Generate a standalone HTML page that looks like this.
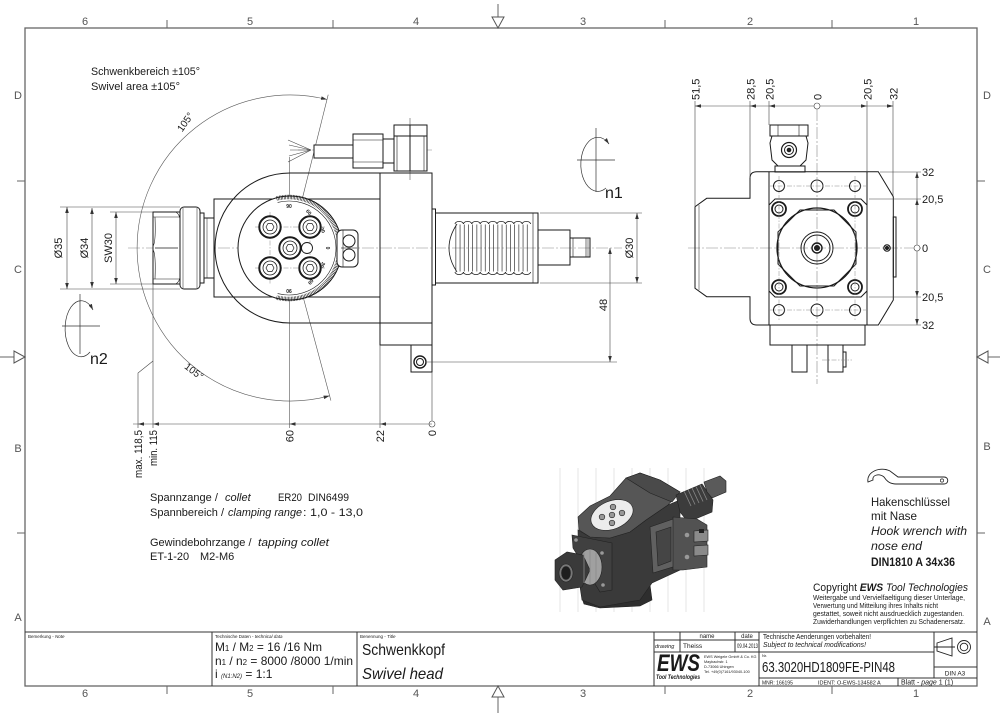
<!DOCTYPE html>
<html><head><meta charset="utf-8">
<style>
html,body{margin:0;padding:0;background:#fff;}
svg{display:block;}
text{font-family:"Liberation Sans",sans-serif;fill:#1a1a1a;}
.fr{fill:#555;font-size:11px;}
.it{font-style:italic;}
</style></head><body>
<svg width="1000" height="715" viewBox="0 0 1000 715" xmlns="http://www.w3.org/2000/svg">
<defs>
<marker id="ah" viewBox="0 0 10 6" refX="10" refY="3" markerWidth="6" markerHeight="3.6" markerUnits="userSpaceOnUse" orient="auto-start-reverse"><path d="M0,0 L10,3 L0,6 z" fill="#333"/></marker>
</defs>

<!-- ===== FRAME ===== -->
<g stroke="#666" stroke-width="1.3" fill="none">
<rect x="25" y="28" width="952" height="658"/>
</g>
<g stroke="#666" stroke-width="1">
<line x1="167" y1="20" x2="167" y2="28"/><line x1="333" y1="20" x2="333" y2="28"/><line x1="665" y1="20" x2="665" y2="28"/><line x1="832" y1="20" x2="832" y2="28"/>
<line x1="167" y1="686" x2="167" y2="694"/><line x1="333" y1="686" x2="333" y2="694"/><line x1="665" y1="686" x2="665" y2="694"/><line x1="832" y1="686" x2="832" y2="694"/>
<line x1="17" y1="181" x2="25" y2="181"/><line x1="17" y1="533" x2="25" y2="533"/>
<line x1="977" y1="181" x2="985" y2="181"/><line x1="977" y1="533" x2="985" y2="533"/>
<line x1="498" y1="4" x2="498" y2="18"/>
<line x1="498" y1="697" x2="498" y2="713"/>
<line x1="0" y1="357" x2="14" y2="357"/>
<line x1="988" y1="357" x2="1000" y2="357"/>
</g>
<g stroke="#555" stroke-width="1" fill="#fff">
<polygon points="492,17 504,17 498,28"/>
<polygon points="492,697 504,697 498,686"/>
<polygon points="14,351 14,363 25,357"/>
<polygon points="988,351 988,363 977,357"/>
</g>
<g class="fr" text-anchor="middle">
<text x="85" y="25" class="fr">6</text><text x="250" y="25" class="fr">5</text><text x="416" y="25" class="fr">4</text><text x="583" y="25" class="fr">3</text><text x="750" y="25" class="fr">2</text><text x="916" y="25" class="fr">1</text>
<text x="85" y="697" class="fr">6</text><text x="250" y="697" class="fr">5</text><text x="416" y="697" class="fr">4</text><text x="583" y="697" class="fr">3</text><text x="750" y="697" class="fr">2</text><text x="916" y="697" class="fr">1</text>
<text x="18" y="99" class="fr">D</text><text x="18" y="273" class="fr">C</text><text x="18" y="452" class="fr">B</text><text x="18" y="621" class="fr">A</text>
<text x="987" y="99" class="fr">D</text><text x="987" y="273" class="fr">C</text><text x="987" y="450" class="fr">B</text><text x="987" y="625" class="fr">A</text>
</g>

<!-- ===== TITLE BLOCK ===== -->
<g stroke="#333" stroke-width="1" fill="none">
<line x1="25" y1="632" x2="977" y2="632"/>
<line x1="212" y1="632" x2="212" y2="686"/>
<line x1="357" y1="632" x2="357" y2="686"/>
<line x1="654" y1="632" x2="654" y2="686"/>
<line x1="759" y1="632" x2="759" y2="686"/>
<line x1="680" y1="632" x2="680" y2="652"/>
<line x1="735" y1="632" x2="735" y2="652"/>
<line x1="654" y1="640" x2="759" y2="640"/>
<line x1="654" y1="652" x2="934" y2="652"/>
<line x1="759" y1="678" x2="977" y2="678"/>
<line x1="898" y1="678" x2="898" y2="686"/>
<line x1="934" y1="632" x2="934" y2="678"/>
<line x1="934" y1="667" x2="977" y2="667"/>
</g>
<text x="28" y="638" font-size="4.5">Bemerkung - <tspan class="it">Note</tspan></text>
<text x="215" y="638" font-size="4.5">Technische Daten - <tspan class="it">technical data</tspan></text>
<text x="215" y="651" font-size="12" textLength="107" lengthAdjust="spacingAndGlyphs">M<tspan font-size="8">1</tspan> / M<tspan font-size="8">2</tspan> = 16  /16  Nm</text>
<text x="215" y="665" font-size="12" textLength="138" lengthAdjust="spacingAndGlyphs">n<tspan font-size="8">1</tspan> / n<tspan font-size="8">2</tspan> = 8000 /8000  1/min</text>
<text x="215" y="678" font-size="12">i  <tspan font-size="6" class="it">(N1:N2)</tspan> = 1:1</text>
<text x="360" y="638" font-size="4.5">Benennung - <tspan class="it">Title</tspan></text>
<text x="362" y="655" font-size="16" textLength="83" lengthAdjust="spacingAndGlyphs">Schwenkkopf</text>
<text x="362" y="679" font-size="16" class="it" textLength="81" lengthAdjust="spacingAndGlyphs">Swivel head</text>
<text x="707" y="638" font-size="6" text-anchor="middle">name</text>
<text x="747" y="638" font-size="6" text-anchor="middle">date</text>
<text x="655" y="648" font-size="5.5" class="it">drawing</text>
<text x="683" y="648" font-size="6.5">Theiss</text>
<text x="737" y="648" font-size="6" textLength="21" lengthAdjust="spacingAndGlyphs">09.04.2013</text>
<text x="657" y="671" font-size="24" font-weight="900" class="it" textLength="43" lengthAdjust="spacingAndGlyphs">EWS</text>
<text x="656" y="679" font-size="6" font-weight="bold" class="it" textLength="44" lengthAdjust="spacingAndGlyphs">Tool Technologies</text>
<g font-size="3.8" fill="#444">
<text x="704" y="658" font-size="3.8">EWS Weigele GmbH &amp; Co. KG</text>
<text x="704" y="663" font-size="3.8">Maybachstr. 1</text>
<text x="704" y="668" font-size="3.8">D-73066 Uhingen</text>
<text x="704" y="673" font-size="3.8">Tel. +49(0)7161/93040-100</text>
</g>
<text x="763" y="639" font-size="7" textLength="108" lengthAdjust="spacingAndGlyphs">Technische Aenderungen vorbehalten!</text>
<text x="763" y="647" font-size="7" class="it" textLength="103" lengthAdjust="spacingAndGlyphs">Subject to technical modifications!</text>
<text x="762" y="657" font-size="4">Nr.</text>
<text x="762" y="672" font-size="15" textLength="133" lengthAdjust="spacingAndGlyphs">63.3020HD1809FE-PIN48</text>
<text x="762" y="684.5" font-size="5">MNR: 166195</text>
<text x="818" y="684.5" font-size="5.5">IDENT: O-EWS-134582 A</text>
<text x="901" y="684.5" font-size="7">Blatt - <tspan class="it">page</tspan>  1 (1)</text>
<text x="955" y="675.5" font-size="6.5" text-anchor="middle">DIN A3</text>
<g stroke="#222" stroke-width="0.9" fill="none">
<polygon points="937,643 952,638 952,656 937,651"/>
<line x1="934" y1="647" x2="955" y2="647"/>
<circle cx="964" cy="647" r="6.5"/><circle cx="964" cy="647" r="3.8"/>
</g>

<!-- ===== TEXT NOTES ===== -->
<text x="91" y="75" font-size="11" textLength="109" lengthAdjust="spacingAndGlyphs">Schwenkbereich ±105°</text>
<text x="91" y="90" font-size="11" textLength="89" lengthAdjust="spacingAndGlyphs">Swivel area ±105°</text>

<text x="150" y="501" font-size="11">Spannzange /</text>
<text x="225" y="501" font-size="11" class="it">collet</text>
<text x="278" y="501" font-size="11" textLength="24" lengthAdjust="spacingAndGlyphs">ER20</text>
<text x="308" y="501" font-size="11" textLength="41" lengthAdjust="spacingAndGlyphs">DIN6499</text>
<text x="150" y="516" font-size="11">Spannbereich /</text>
<text x="228" y="516" font-size="11" class="it" textLength="74" lengthAdjust="spacingAndGlyphs">clamping range</text>
<text x="303" y="516" font-size="11" textLength="60" lengthAdjust="spacingAndGlyphs">: 1,0 - 13,0</text>
<text x="150" y="546" font-size="11">Gewindebohrzange /</text>
<text x="258" y="546" font-size="11" class="it" textLength="71" lengthAdjust="spacingAndGlyphs">tapping collet</text>
<text x="150" y="560" font-size="11">ET-1-20</text>
<text x="200" y="560" font-size="11">M2-M6</text>

<text x="871" y="506" font-size="12" textLength="79" lengthAdjust="spacingAndGlyphs">Hakenschlüssel</text>
<text x="871" y="520" font-size="12" textLength="46" lengthAdjust="spacingAndGlyphs">mit Nase</text>
<text x="871" y="535" font-size="12" class="it" textLength="96" lengthAdjust="spacingAndGlyphs">Hook wrench with</text>
<text x="871" y="550" font-size="12" class="it" textLength="51" lengthAdjust="spacingAndGlyphs">nose end</text>
<text x="871" y="566" font-size="12" font-weight="bold" textLength="84" lengthAdjust="spacingAndGlyphs">DIN1810 A 34x36</text>
<path d="M868,482 C866,472 880,466 890,471 L898,477 L944,477 C949,477 949,484 944,484 L896,484 C889,484 886,480 884,477 C879,473 872,475 873,480 Z" fill="none" stroke="#222" stroke-width="0.9"/>
<circle cx="942" cy="480.5" r="1.6" fill="none" stroke="#222" stroke-width="0.7"/>

<text x="813" y="591" font-size="11" textLength="155" lengthAdjust="spacingAndGlyphs">Copyright <tspan font-weight="bold" class="it">EWS</tspan> <tspan class="it">Tool Technologies</tspan></text>
<text x="813" y="600" font-size="7" textLength="152" lengthAdjust="spacingAndGlyphs">Weitergabe und Vervielfaeltigung dieser Unterlage,</text>
<text x="813" y="608" font-size="7" textLength="125" lengthAdjust="spacingAndGlyphs">Verwertung und Mitteilung ihres Inhalts nicht</text>
<text x="813" y="616" font-size="7" textLength="151" lengthAdjust="spacingAndGlyphs">gestattet, soweit nicht ausdruecklich zugestanden.</text>
<text x="813" y="624" font-size="7" textLength="152" lengthAdjust="spacingAndGlyphs">Zuwiderhandlungen verpflichten zu Schadenersatz.</text>

<!-- ===== LEFT VIEW ===== -->
<g stroke="#888" stroke-width="0.6" fill="none" stroke-dasharray="12 2 2 2">
<line x1="128" y1="248" x2="622" y2="248"/>
<line x1="298" y1="150" x2="432" y2="150"/>
</g>
<g stroke="#555" stroke-width="0.6" fill="none">
<line x1="289.5" y1="157" x2="289.5" y2="428"/>
<line x1="410" y1="118" x2="410" y2="180"/>
<line x1="290" y1="248" x2="328.2" y2="94.7"/>
<line x1="290" y1="248" x2="330.9" y2="400.6"/>
<path d="M327,99.5 A153,153 0 1 0 329.6,395.8" marker-start="url(#ah)" marker-end="url(#ah)"/>
</g>
<text transform="translate(188,124) rotate(-55)" font-size="10" text-anchor="middle">105°</text>
<text transform="translate(192,374) rotate(37)" font-size="10" text-anchor="middle">105°</text>

<g stroke="#1a1a1a" stroke-width="1" fill="none">
<rect x="214" y="199" width="166" height="98"/>
<path d="M380,173 L290,173 A75,75 0 0 0 290,323 L380,323"/>
<rect x="380" y="173" width="52" height="150"/>
<rect x="380" y="323" width="52" height="22"/>
<rect x="411" y="345" width="21" height="27" fill="#fff"/>
<circle cx="420" cy="362" r="6" stroke-width="1.4"/>
<circle cx="420" cy="362" r="3.5"/>
<rect x="153" y="212" width="27" height="72" fill="#fff"/>
<line x1="153" y1="217" x2="180" y2="217" stroke-width="0.6"/>
<line x1="153" y1="279" x2="180" y2="279" stroke-width="0.6"/>
<line x1="155" y1="248" x2="178" y2="248" stroke-width="0.8"/>
<path d="M176,212 Q180,215 180,220 M176,284 Q180,281 180,276 M153,246 Q156,243 155,217 M153,250 Q156,253 155,279" stroke-width="0.6"/>
<rect x="180" y="207" width="20" height="82" rx="4" fill="#fff"/>
<line x1="183" y1="208" x2="183" y2="288" stroke-width="0.5"/>
<line x1="197" y1="208" x2="197" y2="288" stroke-width="0.5"/>
<rect x="200" y="213" width="4" height="70" fill="#fff"/>
<rect x="204" y="218" width="10" height="60" fill="#fff"/>
<line x1="207" y1="218" x2="207" y2="278" stroke-width="0.5"/>
<circle cx="290" cy="248" r="52" fill="#fff"/>
<path d="M276.5,198.5 A51,51 0 1 1 276.5,297.5" stroke-width="4.5" stroke-dasharray="0.6 0.9"/>
<path d="M277.6,202.4 A47,47 0 1 1 277.6,293.6" stroke-width="0.6"/>
</g>
<g font-size="5" font-weight="bold" text-anchor="middle" fill="#222">
<text x="289" y="208" font-size="5">90</text>
<text x="309" y="214" font-size="5" transform="rotate(50 309 212)">60</text>
<text x="323" y="232" font-size="5" transform="rotate(65 323 230)">30</text>
<text x="328" y="250" font-size="5" transform="rotate(90 328 248)">0</text>
<text x="323" y="267" font-size="5" transform="rotate(115 323 265)">30</text>
<text x="311" y="284" font-size="5" transform="rotate(130 311 282)">60</text>
<text x="289" y="293" font-size="5" transform="rotate(180 289 291)">90</text>
</g>
<g stroke="#888" stroke-width="0.5" stroke-dasharray="5 1.5 1.5 1.5">
<line x1="255" y1="227" x2="325" y2="227"/>
<line x1="255" y1="268" x2="325" y2="268"/>
<line x1="270" y1="212" x2="270" y2="284"/>
<line x1="310" y1="212" x2="310" y2="284"/>
</g>
<g stroke="#1a1a1a" fill="#fff">
<circle cx="290" cy="248" r="10.7" stroke-width="2"/><circle cx="290" cy="248" r="7" stroke-width="0.8"/>
<circle cx="270" cy="227" r="10.7" stroke-width="2"/><circle cx="270" cy="227" r="7" stroke-width="0.8"/>
<circle cx="310" cy="227" r="10.7" stroke-width="2"/><circle cx="310" cy="227" r="7" stroke-width="0.8"/>
<circle cx="270" cy="268" r="10.7" stroke-width="2"/><circle cx="270" cy="268" r="7" stroke-width="0.8"/>
<circle cx="310" cy="268" r="10.7" stroke-width="2"/><circle cx="310" cy="268" r="7" stroke-width="0.8"/>
<circle cx="307" cy="248" r="5.5" stroke-width="0.9"/>
</g>
<g stroke="#1a1a1a" stroke-width="0.7" fill="none">
<polygon points="294,248 292,251.5 288,251.5 286,248 288,244.5 292,244.5"/>
<polygon points="274,227 272,230.5 268,230.5 266,227 268,223.5 272,223.5"/>
<polygon points="314,227 312,230.5 308,230.5 306,227 308,223.5 312,223.5"/>
<polygon points="274,268 272,271.5 268,271.5 266,268 268,264.5 272,264.5"/>
<polygon points="314,268 312,271.5 308,271.5 306,268 308,264.5 312,264.5"/>
</g>
<g stroke="#1a1a1a" stroke-width="1" fill="#fff">
<rect x="337" y="230" width="21" height="37" rx="5"/>
<circle cx="349" cy="241" r="6"/><circle cx="349" cy="255" r="6"/>
<line x1="343" y1="230" x2="343" y2="267" stroke-width="0.6"/>
<line x1="341" y1="248" x2="357" y2="248" stroke-width="0.6"/>
</g>
<g stroke="#444" stroke-width="0.6">
<line x1="311" y1="150" x2="288" y2="140"/><line x1="311" y1="150" x2="289" y2="145"/><line x1="311" y1="150" x2="290" y2="150"/><line x1="311" y1="150" x2="289" y2="156"/><line x1="311" y1="150" x2="288" y2="162"/>
</g>
<g stroke="#1a1a1a" stroke-width="1" fill="#fff">
<rect x="314" y="145" width="39" height="13"/>
<rect x="353" y="134" width="30" height="34"/>
<rect x="383" y="139" width="11" height="24"/>
<rect x="394" y="125" width="33" height="46"/>
<line x1="353" y1="140" x2="383" y2="140" stroke-width="0.6"/>
<line x1="353" y1="162" x2="383" y2="162" stroke-width="0.6"/>
<line x1="394" y1="136" x2="427" y2="136"/>
<line x1="397" y1="136" x2="397" y2="171" stroke-width="0.6"/>
<line x1="410" y1="125" x2="410" y2="171"/>
<line x1="424" y1="136" x2="424" y2="171" stroke-width="0.6"/>
</g>
<g stroke="#1a1a1a" stroke-width="1" fill="none">
<rect x="432" y="209" width="3.5" height="76" fill="#fff"/>
<rect x="435.5" y="213" width="102.5" height="70"/>
<line x1="533" y1="213" x2="533" y2="283" stroke-width="0.6"/>
<path d="M457,224 Q441,248 457,272" stroke-width="0.8"/>
<path d="M455,224 a4.2,2.6 0 0 1 8.4,0 a4.2,2.6 0 0 1 8.4,0 a4.2,2.6 0 0 1 8.4,0 a4.2,2.6 0 0 1 8.4,0 a4.2,2.6 0 0 1 8.4,0 a4.2,2.6 0 0 1 8.4,0 a4.2,2.6 0 0 1 8.4,0 a4.2,2.6 0 0 1 8.4,0 a4.2,2.6 0 0 1 8.4,0" stroke-width="0.8"/>
<path d="M455,272 a4.2,2.6 0 0 0 8.4,0 a4.2,2.6 0 0 0 8.4,0 a4.2,2.6 0 0 0 8.4,0 a4.2,2.6 0 0 0 8.4,0 a4.2,2.6 0 0 0 8.4,0 a4.2,2.6 0 0 0 8.4,0 a4.2,2.6 0 0 0 8.4,0 a4.2,2.6 0 0 0 8.4,0 a4.2,2.6 0 0 0 8.4,0" stroke-width="0.8"/>
<line x1="455.5" y1="248" x2="531" y2="248" stroke-width="47" stroke-dasharray="0.7 3.5" stroke="#333"/>
<rect x="538" y="230" width="32" height="35"/>
<rect x="570" y="238" width="20" height="19"/>
<line x1="573" y1="238" x2="573" y2="257" stroke-width="0.6"/>
<line x1="586" y1="238" x2="586" y2="257" stroke-width="0.6"/>
<line x1="588" y1="238" x2="588" y2="257" stroke-width="0.5"/>
</g>

<g stroke="#444" stroke-width="0.6" fill="none">
<line x1="60" y1="207" x2="180" y2="207"/>
<line x1="60" y1="289" x2="180" y2="289"/>
<line x1="110" y1="212" x2="153" y2="212"/>
<line x1="110" y1="284" x2="153" y2="284"/>
<line x1="67" y1="207" x2="67" y2="289" marker-start="url(#ah)" marker-end="url(#ah)"/>
<line x1="92" y1="208" x2="92" y2="288" marker-start="url(#ah)" marker-end="url(#ah)"/>
<line x1="116" y1="212" x2="116" y2="284" marker-start="url(#ah)" marker-end="url(#ah)"/>
<line x1="540" y1="213" x2="642" y2="213"/>
<line x1="540" y1="283" x2="642" y2="283"/>
<line x1="637" y1="213" x2="637" y2="283" marker-start="url(#ah)" marker-end="url(#ah)"/>
<line x1="427" y1="362" x2="617" y2="362"/>
<line x1="610" y1="248" x2="610" y2="362" marker-start="url(#ah)" marker-end="url(#ah)"/>
<line x1="133" y1="424" x2="432" y2="424"/>
<line x1="153" y1="284" x2="153" y2="428"/>
<path d="M153,361 L138,373 L138,428"/>
<line x1="380" y1="345" x2="380" y2="428"/>
<line x1="432" y1="372" x2="432" y2="421"/>
<circle cx="432" cy="424" r="3"/>
</g>
<g fill="#333">
<polygon points="138,424 144,422.2 144,425.8"/>
<polygon points="153,424 159,422.2 159,425.8"/>
<polygon points="289.5,424 295.5,422.2 295.5,425.8"/>
<polygon points="380,424 386,422.2 386,425.8"/>
</g>
<g font-size="11">
<text transform="translate(62,248) rotate(-90)" text-anchor="middle">Ø35</text>
<text transform="translate(88,248) rotate(-90)" text-anchor="middle">Ø34</text>
<text transform="translate(112,248) rotate(-90)" text-anchor="middle">SW30</text>
<text transform="translate(633,248) rotate(-90)" text-anchor="middle">Ø30</text>
<text transform="translate(607,305) rotate(-90)" text-anchor="middle">48</text>
<text transform="translate(142,430) rotate(-90)" text-anchor="end" textLength="48" lengthAdjust="spacingAndGlyphs">max. 118,5</text>
<text transform="translate(157,430) rotate(-90)" text-anchor="end" textLength="36" lengthAdjust="spacingAndGlyphs">min. 115</text>
<text transform="translate(293.5,430) rotate(-90)" text-anchor="end">60</text>
<text transform="translate(384,430) rotate(-90)" text-anchor="end">22</text>
<text transform="translate(436,430) rotate(-90)" text-anchor="end">0</text>
</g>

<g stroke="#333" stroke-width="0.7" fill="none">
<line x1="577" y1="160" x2="615" y2="160"/>
<line x1="596" y1="128" x2="596" y2="192"/>
<path d="M606,188 A17,27 0 1 1 609,144" marker-end="url(#ah)"/>
<line x1="62" y1="326" x2="100" y2="326"/>
<line x1="80" y1="294" x2="80" y2="354"/>
<path d="M90,352 A16,28 0 1 1 93,310" marker-end="url(#ah)"/>
</g>
<text x="605" y="198" font-size="16">n1</text>
<text x="90" y="364" font-size="16">n2</text>

<!-- ===== RIGHT VIEW ===== -->
<g stroke="#888" stroke-width="0.6" fill="none" stroke-dasharray="12 2 2 2">
<line x1="688" y1="248" x2="914" y2="248"/>
<line x1="817" y1="109" x2="817" y2="384"/>
</g>
<g stroke="#1a1a1a" stroke-width="1" fill="none">
<path d="M756.7,171.7 L878.3,171.7 L893.3,196.7 L893.3,300 L878.3,325 L756.7,325 Q750,325 750,318.3 L750,296.7 L706.7,296.7 L695,288.3 L695,206.7 L706.7,198.3 L750,198.3 L750,178.3 Q750,171.7 756.7,171.7 Z"/>
<path d="M699,205 L699,290" stroke-width="0.5"/>
<line x1="769" y1="172" x2="769" y2="325"/>
<line x1="867" y1="172" x2="867" y2="325"/>
<polygon points="775,199 861,199 867,205 867,291 861,297 775,297 769,291 769,205"/>
<rect x="893.3" y="217" width="2.7" height="60"/>
<polygon points="800,210 834,210 856,232 856,264 834,286 800,286 778,264 778,232"/>
<circle cx="817" cy="248" r="40" stroke-width="1.3"/>
<circle cx="817" cy="248" r="16"/>
<circle cx="817" cy="248" r="13"/>
<circle cx="817" cy="248" r="5" stroke-width="1.4"/>
<circle cx="817" cy="248" r="2.5" fill="#222"/>
<circle cx="779" cy="209" r="7" stroke-width="1.8"/><circle cx="779" cy="209" r="4"/>
<circle cx="855" cy="209" r="7" stroke-width="1.8"/><circle cx="855" cy="209" r="4"/>
<circle cx="779" cy="287" r="7" stroke-width="1.8"/><circle cx="779" cy="287" r="4"/>
<circle cx="855" cy="287" r="7" stroke-width="1.8"/><circle cx="855" cy="287" r="4"/>
<circle cx="779" cy="186" r="5.5"/><circle cx="817" cy="186" r="6"/><circle cx="855" cy="186" r="5.5"/>
<circle cx="779" cy="310" r="5.5"/><circle cx="817" cy="310" r="6"/><circle cx="855" cy="310" r="5.5"/>
<circle cx="887" cy="248" r="3.2" stroke-width="1.2"/><circle cx="887" cy="248" r="1.5" fill="#222"/>
<rect x="770" y="125" width="38" height="11"/>
<line x1="778" y1="125" x2="778" y2="136" stroke-width="0.6"/>
<line x1="799" y1="125" x2="799" y2="136" stroke-width="0.6"/>
<polygon points="772,136 806,136 808,143 806,160 800,166 778,166 772,160 770,143"/>
<rect x="775" y="166" width="30" height="6"/>
<circle cx="789" cy="150" r="7.5" stroke-width="1.2"/><circle cx="789" cy="150" r="4.5"/><circle cx="789" cy="150" r="1.8" fill="#222"/>
<rect x="770" y="325" width="95" height="20"/>
<rect x="792" y="345" width="15" height="27"/>
<rect x="828" y="345" width="15" height="27"/>
<rect x="843" y="352" width="3" height="15"/>
</g>
<g stroke="#888" stroke-width="0.5" stroke-dasharray="5 1.5 1.5 1.5">
<line x1="768" y1="186" x2="866" y2="186"/><line x1="768" y1="310" x2="866" y2="310"/>
<line x1="779" y1="176" x2="779" y2="320"/><line x1="855" y1="176" x2="855" y2="320"/>
<line x1="822" y1="360" x2="852" y2="360"/>
</g>
<g stroke="#444" stroke-width="0.6" fill="none">
<line x1="695" y1="106" x2="893" y2="106"/>
<line x1="695" y1="101" x2="695" y2="206"/>
<line x1="750" y1="101" x2="750" y2="178"/>
<line x1="769" y1="101" x2="769" y2="125"/>
<line x1="867" y1="101" x2="867" y2="172"/>
<line x1="893" y1="101" x2="893" y2="197"/>
<circle cx="817" cy="106" r="3" fill="#fff"/>
<line x1="917" y1="172" x2="917" y2="325"/>
<line x1="880" y1="172" x2="921" y2="172"/>
<line x1="869" y1="199" x2="921" y2="199"/>
<line x1="869" y1="297" x2="921" y2="297"/>
<line x1="880" y1="325" x2="921" y2="325"/>
<line x1="914" y1="248" x2="921" y2="248"/>
<circle cx="917" cy="248" r="3" fill="#fff"/>
</g>
<g fill="#333">
<polygon points="695,106 701,104.2 701,107.8"/>
<polygon points="750,106 756,104.2 756,107.8"/>
<polygon points="769,106 775,104.2 775,107.8"/>
<polygon points="867,106 861,104.2 861,107.8"/>
<polygon points="893,106 887,104.2 887,107.8"/>
<polygon points="917,172 915.2,178 918.8,178"/>
<polygon points="917,199 915.2,205 918.8,205"/>
<polygon points="917,297 915.2,291 918.8,291"/>
<polygon points="917,325 915.2,319 918.8,319"/>
</g>
<g font-size="11">
<text transform="translate(699.5,100) rotate(-90)">51,5</text>
<text transform="translate(754.5,100) rotate(-90)">28,5</text>
<text transform="translate(773.5,100) rotate(-90)">20,5</text>
<text transform="translate(821.5,100) rotate(-90)">0</text>
<text transform="translate(871.5,100) rotate(-90)">20,5</text>
<text transform="translate(897.5,100) rotate(-90)">32</text>
<text x="922" y="176">32</text>
<text x="922" y="203">20,5</text>
<text x="922" y="252">0</text>
<text x="922" y="301">20,5</text>
<text x="922" y="329">32</text>
</g>

<!-- ===== ISOMETRIC ===== -->
<g stroke="#e6e6e6" stroke-width="1">
<line x1="560" y1="468" x2="560" y2="612"/><line x1="578" y1="468" x2="578" y2="612"/><line x1="596" y1="468" x2="596" y2="612"/><line x1="614" y1="468" x2="614" y2="612"/><line x1="632" y1="468" x2="632" y2="612"/><line x1="650" y1="468" x2="650" y2="612"/><line x1="668" y1="468" x2="668" y2="612"/><line x1="686" y1="468" x2="686" y2="612"/><line x1="704" y1="468" x2="704" y2="612"/>
</g>
<g stroke="#222" stroke-width="0.6">
<polygon points="582,598 650,585 652,600 640,606 600,608 584,604" fill="#2e2e2e"/>
<polygon points="578,530 590,537 610,538 630,532 646,520 668,505 680,500 680,570 652,583 640,600 600,607 582,600 579,580" fill="#3a3a3a"/>
<polygon points="578,517 590,506 610,496 626,478 640,473 660,480 680,492 668,505 646,520 630,532 610,538 590,537 579,530" fill="#565656"/>
<polygon points="626,478 640,473 660,480 680,492 672,502 650,493" fill="#4a4a4a"/>
<polygon points="676,495 702,484 713,500 712,512 688,522 680,512" fill="#3c3c3c"/>
<polygon points="704,482 720,476 726,481 726,492 712,498 707,492" fill="#5a5a5a"/>
<polygon points="650,527 676,518 676,566 653,573" fill="#606060"/>
<polygon points="656,532 671,527 671,561 658,566" fill="#454545"/>
<polygon points="673,517 697,519 707,525 707,567 683,570 673,570" fill="#525252"/>
<polygon points="694,531 708,530 708,541 694,542" fill="#8a8a8a"/>
<polygon points="694,546 708,545 708,555 694,556" fill="#8a8a8a"/>
<polygon points="572,535 612,543 612,590 600,592 573,548" fill="#404040"/>
<ellipse cx="590" cy="567" rx="12" ry="18" fill="#a0a0a0"/>
<polygon points="555,560 567,552 583,555 590,570 582,587 563,590 555,580" fill="#3a3a3a"/>
<ellipse cx="566" cy="573" rx="7" ry="9" fill="#777"/>
<ellipse cx="566" cy="573" rx="4.5" ry="6.5" fill="#1e1e1e"/>
<ellipse cx="612" cy="515" rx="22" ry="14" transform="rotate(-22 612 515)" fill="#ececec"/>
<circle cx="602" cy="517" r="2.8" fill="#999"/><circle cx="612" cy="515" r="2.8" fill="#999"/><circle cx="622" cy="513" r="2.8" fill="#999"/><circle cx="613" cy="507" r="2.8" fill="#999"/><circle cx="612" cy="523" r="2.8" fill="#999"/>
</g>
<g stroke="#8a8a8a" stroke-width="0.8">
<line x1="684" y1="491" x2="691" y2="506"/><line x1="688" y1="489.5" x2="695" y2="504.5"/><line x1="692" y1="488" x2="699" y2="503"/><line x1="696" y1="486.5" x2="703" y2="501.5"/><line x1="700" y1="485" x2="707" y2="500"/>
<line x1="584" y1="553" x2="584" y2="583"/><line x1="590" y1="550" x2="590" y2="585"/><line x1="596" y1="553" x2="596" y2="582"/>
</g>
<g fill="#999">
<circle cx="687" cy="535" r="2.3"/><circle cx="687" cy="557" r="2.3"/>
<circle cx="576" cy="540" r="1.8"/><circle cx="602" cy="553" r="1.8"/><circle cx="603" cy="585" r="1.8"/>
</g>
<rect x="699" y="529" width="5" height="4" fill="#222"/>
</svg>
</body></html>
